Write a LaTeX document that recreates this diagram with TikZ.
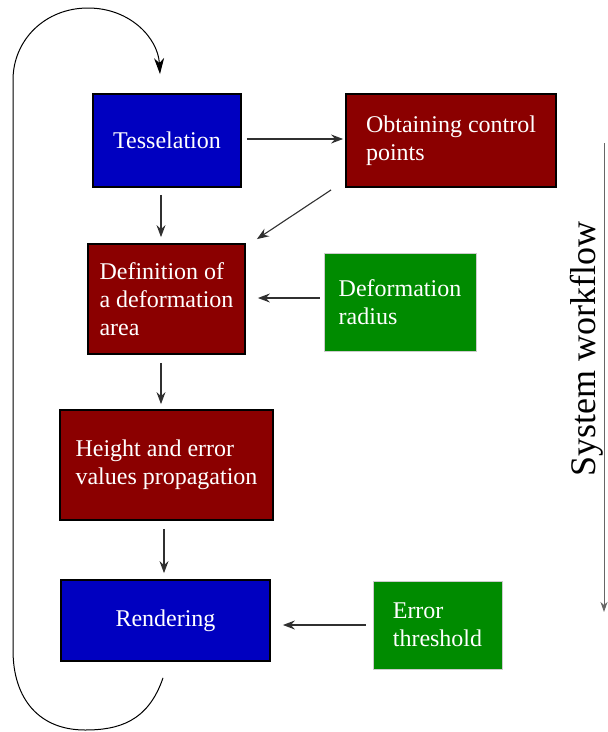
\documentclass[tikz,border=0pt]{standalone}
\usepackage{fontspec}
\setmainfont{Liberation Serif}
\usetikzlibrary{arrows.meta,calc}
\definecolor{bblue}{HTML}{0000C0}
\definecolor{bred}{HTML}{8B0000}
\definecolor{bgreen}{HTML}{008B00}
\definecolor{linec}{HTML}{303030}
\newcommand{\boxfont}{\fontsize{24}{28}\selectfont}
\tikzset{
  box/.style={draw=black, line width=1.8pt, text=white, font=\boxfont, align=left, inner sep=0pt},
  bluebox/.style={box, fill=bblue},
  redbox/.style={box, fill=bred},
  greenbox/.style={box, fill=bgreen, draw=gray!40, line width=0.6pt},
  arr/.style={draw=linec, line width=1.1pt, -{Stealth[length=12pt,width=9pt,inset=4pt]}},
}
\begin{document}
\begin{tikzpicture}[x=1pt,y=-1pt]
\useasboundingbox (0,0) rectangle (608,732);
\node[bluebox, minimum width=148pt, minimum height=93pt] (tess) at (167,140.5) {Tesselation};
\node[redbox, minimum width=210pt, minimum height=93pt] (obt) at (451,140.5) {Obtaining control\\points};
\node[redbox, minimum width=157pt, minimum height=110pt] (def) at (166.5,299) {Definition of\\a deformation\\area};
\node[greenbox, minimum width=152pt, minimum height=98pt] (rad) at (400,302) {Deformation\\radius};
\node[redbox, minimum width=213pt, minimum height=110pt] (hgt) at (166.5,465) {Height and error\\values propagation};
\node[bluebox, minimum width=209pt, minimum height=81pt] (rend) at (165.5,620.5) {Rendering};
\node[greenbox, minimum width=129pt, minimum height=88pt] (thr) at (437.5,625) {Error\\threshold};
\node[rotate=90, font=\fontsize{36}{40}\selectfont, inner sep=0pt] (wf) at (587,349) {System workflow};

\draw[arr] ([xshift=5pt,yshift=1.5pt]tess.east) -- ([xshift=-2pt,yshift=1.5pt]obt.west);
\draw[arr] ([xshift=-6pt,yshift=-7pt]tess.south) -- ([xshift=-5.5pt,yshift=6pt]def.north);
\draw[arr] ([xshift=-14pt,yshift=-2pt]obt.south west) -- ([xshift=11pt,yshift=4pt]def.north east);
\draw[arr] ([xshift=-4pt,yshift=4pt]rad.west) -- ([xshift=12pt,yshift=1pt]def.east);
\draw[arr] ([xshift=-5.5pt,yshift=-8pt]def.south) -- ([xshift=-5.5pt,yshift=5pt]hgt.north);
\draw[arr] ([xshift=-2.5pt,yshift=-8pt]hgt.south) -- ([xshift=-1.5pt,yshift=6pt]rend.north);
\draw[arr] ([xshift=-7pt]thr.west) -- ([xshift=12pt,yshift=-4.5pt]rend.east);

\coordinate (ls) at ([xshift=-2.5pt,yshift=-16pt]rend.south);
\coordinate (le) at ([xshift=-7pt,yshift=19pt]tess.north);
\draw[draw=black, line width=1pt, -{Stealth[length=16pt,width=10pt,inset=5pt]}]
  (ls) .. controls (148,722) and (118,730) .. (85,730)
       .. controls (40,730) and (13,700) .. (13,650)
       -- (13,80)
       .. controls (13,40) and (45,8) .. (88,8)
       .. controls (130,8) and (158,38) .. (le);

\coordinate (ws) at (604,143);
\coordinate (we) at (604,612);
\draw[draw=gray!80!black, line width=1pt, -{Stealth[length=10pt,width=7pt,inset=3pt]}] (ws) -- (we);
\end{tikzpicture}
\end{document}
